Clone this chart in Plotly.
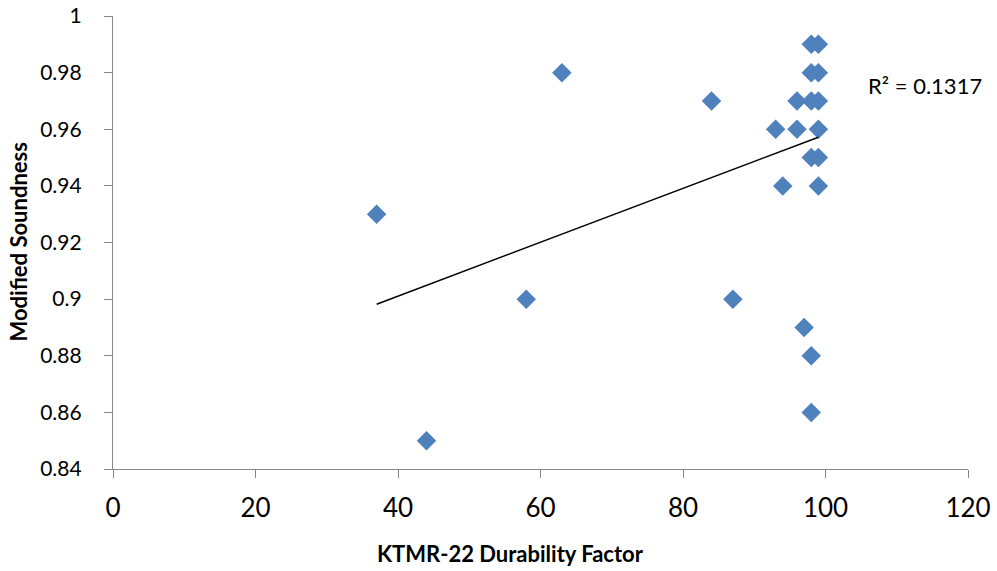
import plotly.graph_objects as go

# KTMR-22 durability factor vs. modified soundness
durability = [37, 44, 58, 63, 84, 87, 93, 94, 96, 96, 97,
              98, 99, 98, 99, 98, 99, 99, 98, 99, 99, 98, 98]
soundness = [0.93, 0.85, 0.90, 0.98, 0.97, 0.90, 0.96, 0.94, 0.97, 0.96, 0.89,
             0.99, 0.99, 0.98, 0.98, 0.97, 0.97, 0.96, 0.95, 0.95, 0.94, 0.88, 0.86]

# Linear trendline as reported for the full sample
trend_x = [37, 99]
trend_y = [0.8982, 0.9572]
r2_label = "R² = 0.1317"

x_ticks = [0, 20, 40, 60, 80, 100, 120]
y_ticks = [0.84, 0.86, 0.88, 0.90, 0.92, 0.94, 0.96, 0.98, 1.00]
y_ticktext = ["0.84", "0.86", "0.88", "0.9", "0.92", "0.94", "0.96", "0.98", "1"]

font_family = "Lato, 'Open Sans', sans-serif"
axis_grey = "#868686"

# plot-area box in pixels
PL, PR, PT, PB = 113, 968, 16, 469
W, H = 997, 571

fig = go.Figure()
fig.add_trace(go.Scatter(
    x=durability, y=soundness, mode="markers",
    marker=dict(symbol="diamond", size=15, color="#4F81BD",
                line=dict(width=0)),
    showlegend=False, hoverinfo="x+y",
))
fig.add_trace(go.Scatter(
    x=trend_x, y=trend_y, mode="lines",
    line=dict(color="black", width=1.5),
    showlegend=False, hoverinfo="skip",
))

# R² label to the right of the cluster
fig.add_annotation(
    x=0.0, y=0.0, xref="paper", yref="paper",
    text=r2_label, showarrow=False, xanchor="left", yanchor="middle",
    xshift=866 - PL, yshift=PB - 85,
    font=dict(family=font_family, size=22, color="black"),
)
# Axis titles
fig.add_annotation(
    x=0.0, y=0.0, xref="paper", yref="paper",
    text="<b>KTMR-22 Durability Factor</b>", showarrow=False,
    xanchor="center", yanchor="middle",
    xshift=510 - PL, yshift=PB - 553,
    font=dict(family=font_family, size=22, color="black"),
)
fig.add_annotation(
    x=0.0, y=0.5, xref="paper", yref="paper",
    text="<b>Modified Soundness</b>", showarrow=False, textangle=-90,
    xanchor="center", yanchor="middle",
    xshift=18 - PL,
    font=dict(family=font_family, size=22, color="black"),
)

fig.update_layout(
    width=W, height=H,
    margin=dict(l=PL, r=W - PR, t=PT, b=H - PB),
    paper_bgcolor="white", plot_bgcolor="white",
    font=dict(family=font_family, color="black"),
    xaxis=dict(
        range=[0, 120], tickvals=x_ticks, ticktext=[str(v) for v in x_ticks],
        showgrid=False, zeroline=False, showline=True, automargin=False,
        linecolor=axis_grey, linewidth=1.3,
        ticks="outside", ticklen=8, tickcolor=axis_grey, tickwidth=1.3,
        tickfont=dict(size=26, family=font_family),
        ticklabelstandoff=8,
    ),
    yaxis=dict(
        range=[0.84, 1.0], tickvals=y_ticks, ticktext=y_ticktext,
        showgrid=False, zeroline=False, showline=True, automargin=False,
        linecolor=axis_grey, linewidth=1.3,
        ticks="outside", ticklen=8, tickcolor=axis_grey, tickwidth=1.3,
        tickfont=dict(size=21, family=font_family),
        ticklabelstandoff=18,
    ),
)

fig.write_html("out.html")
